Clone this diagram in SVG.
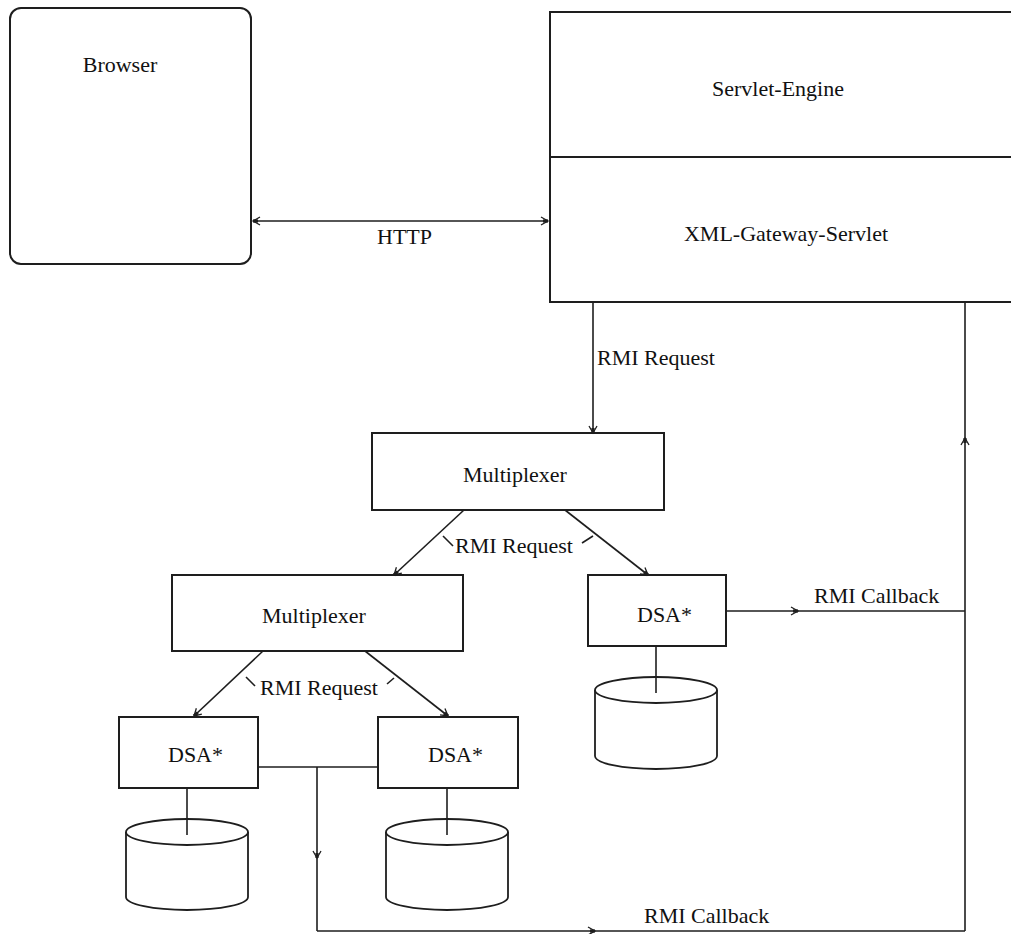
<svg xmlns="http://www.w3.org/2000/svg" width="1011" height="934" viewBox="0 0 1011 934">
<style>
.box{fill:#fff;stroke:#1e1e1e;stroke-width:2}
.cyl{fill:#fff;stroke:#1e1e1e;stroke-width:1.8}
.ln{fill:none;stroke:#1e1e1e;stroke-width:1.6}
.arr{fill:none;stroke:#1e1e1e;stroke-width:1.6;marker-end:url(#ah)}
.t{font-family:"Liberation Serif","Times New Roman",serif;font-size:22px;fill:#111}
.m{text-anchor:middle}
</style>
<defs>
<marker id="ah" viewBox="-9 -5 11 10" refX="0" refY="0" markerWidth="11" markerHeight="10" markerUnits="userSpaceOnUse" orient="auto-start-reverse">
<path d="M-7,-4 L0,0 L-7,4" fill="none" stroke="#1e1e1e" stroke-width="1.3"/>
<rect x="-5" y="-1.6" width="5" height="3.2" fill="#1e1e1e"/>
</marker>
</defs>
<rect width="1011" height="934" fill="#fff"/>

<g id="browser">
<rect class="box" x="10" y="8" width="241" height="256" rx="11" ry="11"/>
<text class="t m" x="120" y="72">Browser</text>
</g>

<g id="servlet-engine">
<path class="box" d="M1012,12 L550,12 L550,302 L1012,302"/>
<line class="ln" x1="550" y1="157" x2="1012" y2="157" style="stroke-width:2"/>
<text class="t m" x="778" y="96">Servlet-Engine</text>
<text class="t m" x="786" y="241">XML-Gateway-Servlet</text>
</g>

<g id="multiplexer1">
<rect class="box" x="372" y="433" width="292" height="77"/>
<text class="t m" x="515" y="482">Multiplexer</text>
</g>

<g id="multiplexer2">
<rect class="box" x="172" y="575" width="291" height="76"/>
<text class="t m" x="314" y="623">Multiplexer</text>
</g>

<g id="dsa-upper">
<rect class="box" x="588" y="575" width="138" height="71"/>
<text class="t" x="637" y="622">DSA*</text>
<path class="cyl" d="M595,690 L595,756 A61,13 0 0 0 717,756 L717,690"/>
<ellipse class="cyl" cx="656" cy="690" rx="61" ry="13"/>
<line class="ln" x1="656" y1="646" x2="656" y2="693"/>
</g>

<g id="dsa-left">
<rect class="box" x="119" y="717" width="139" height="71"/>
<text class="t" x="168" y="762">DSA*</text>
<path class="cyl" d="M126,832 L126,897 A61,13 0 0 0 248,897 L248,832"/>
<ellipse class="cyl" cx="187" cy="832" rx="61" ry="13"/>
<line class="ln" x1="187" y1="788" x2="187" y2="835"/>
</g>

<g id="dsa-right">
<rect class="box" x="378" y="717" width="140" height="71"/>
<text class="t" x="428" y="762">DSA*</text>
<path class="cyl" d="M386,832 L386,897 A61,13 0 0 0 508,897 L508,832"/>
<ellipse class="cyl" cx="447" cy="832" rx="61" ry="13"/>
<line class="ln" x1="447" y1="788" x2="447" y2="835"/>
</g>

<g id="connectors">
<line x1="253" y1="221" x2="548" y2="221" class="ln" marker-start="url(#ah)" marker-end="url(#ah)"/>
<text class="t" x="377" y="244">HTTP</text>

<line class="arr" x1="593" y1="302" x2="593" y2="433"/>
<text class="t" x="597" y="365">RMI Request</text>

<line class="arr" x1="464" y1="510" x2="394" y2="575"/>
<line class="arr" x1="565" y1="510" x2="648" y2="575"/>
<line class="ln" x1="443" y1="536" x2="453" y2="546"/>
<line class="ln" x1="593" y1="536" x2="582" y2="543"/>
<text class="t" x="455" y="553">RMI Request</text>

<line class="arr" x1="263" y1="651" x2="194" y2="716"/>
<line class="arr" x1="365" y1="651" x2="448" y2="716"/>
<line class="ln" x1="246" y1="677" x2="255" y2="686"/>
<line class="ln" x1="394" y1="678" x2="387" y2="684"/>
<text class="t" x="260" y="695">RMI Request</text>

<line class="arr" x1="726" y1="611" x2="798" y2="611"/>
<line class="ln" x1="798" y1="611" x2="965" y2="611"/>
<text class="t" x="814" y="603">RMI Callback</text>

<line class="ln" x1="258" y1="767" x2="378" y2="767"/>
<line class="arr" x1="317" y1="767" x2="317" y2="858"/>
<line class="ln" x1="317" y1="858" x2="317" y2="931"/>
<line class="arr" x1="317" y1="931" x2="595" y2="931"/>
<line class="ln" x1="595" y1="931" x2="965" y2="931"/>
<text class="t" x="644" y="923">RMI Callback</text>

<line class="arr" x1="965" y1="931" x2="965" y2="438"/>
<line class="ln" x1="965" y1="438" x2="965" y2="302"/>
</g>
</svg>
